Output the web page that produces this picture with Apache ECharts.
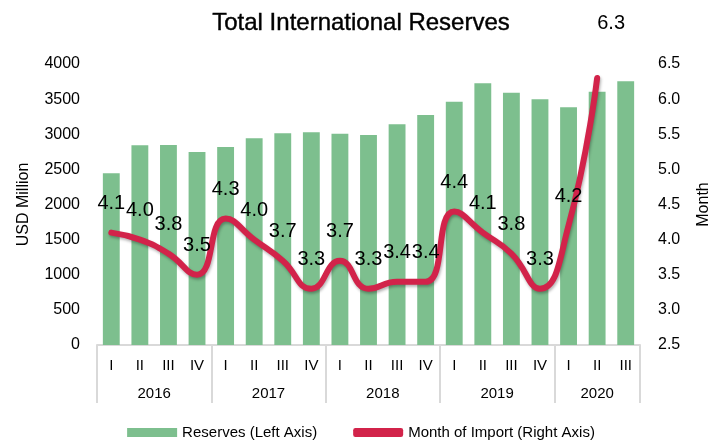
<!DOCTYPE html>
<html>
<head>
<meta charset="utf-8">
<script src="https://cdn.jsdelivr.net/npm/echarts@6/dist/echarts.min.js"></script>
<style>
html,body{margin:0;padding:0;background:#fff;}
#chart{width:722px;height:446px;}
</style>
</head>
<body>
<div id="chart"></div>
<script>
var quarters = ['I','II','III','IV','I','II','III','IV','I','II','III','IV','I','II','III','IV','I','II','III'];
var years = ['2016','2017','2018','2019','2020'];
var yearCenters = [2, 6, 10, 14, 17.5];
var yearBounds = [0, 4, 8, 12, 16, 19];
var reserves = [2445, 2842, 2847, 2747, 2818, 2942, 3013, 3028, 3008, 2989, 3141, 3274, 3464, 3725, 3592, 3497, 3384, 3606, 3754];
var monthsImport = [4.1, 4.0, 3.8, 3.5, 4.3, 4.0, 3.7, 3.3, 3.7, 3.3, 3.4, 3.4, 4.4, 4.1, 3.8, 3.3, 4.2, 6.3];
var leftTicks = {min: 0, max: 4000, interval: 500};
var rightTicks = {min: 2.5, max: 6.5, interval: 0.5};

var FONT = '"Liberation Sans", Arial, sans-serif';
var chart = echarts.init(document.getElementById('chart'));

var lineData = monthsImport.map(function (v, i) {
  if (i === monthsImport.length - 1) {
    return {value: v, label: {offset: [14, -26]}};
  }
  return v;
});

chart.setOption({
  animation: false,
  textStyle: {fontFamily: FONT, color: '#000'},
  title: {
    text: 'Total International Reserves',
    left: 'center',
    top: 6,
    textStyle: {fontFamily: FONT, fontSize: 24, fontWeight: 'normal', color: '#000',
      textBorderColor: '#000', textBorderWidth: 0.4}
  },
  legend: {
    bottom: 1,
    left: 'center',
    itemGap: 36,
    itemWidth: 50,
    itemHeight: 9,
    textStyle: {fontFamily: FONT, fontSize: 15, color: '#000'},
    data: [
      {name: 'Reserves (Left Axis)', icon: 'rect'},
      {name: 'Month of Import (Right Axis)', icon: 'roundRect'}
    ]
  },
  grid: {left: 97, right: 82, top: 64, bottom: 101, containLabel: false},
  xAxis: [
    {
      type: 'category',
      data: quarters,
      position: 'bottom',
      axisLine: {lineStyle: {color: '#d9d9d9', width: 2}},
      axisTick: {show: false},
      axisLabel: {fontFamily: FONT, fontSize: 15, color: '#000', margin: 13, interval: 0},
      splitLine: {show: false}
    },
    {
      type: 'value',
      min: 0,
      max: 19,
      position: 'bottom',
      axisLine: {show: false},
      splitLine: {show: false},
      axisTick: {show: true, customValues: yearBounds, length: 58, inside: false,
        lineStyle: {color: '#d9d9d9', width: 2}},
      axisLabel: {
        customValues: yearCenters,
        fontFamily: FONT, fontSize: 15, color: '#000', margin: 41,
        formatter: function (v) {
          var idx = yearCenters.indexOf(v);
          return idx >= 0 ? years[idx] : '';
        }
      }
    }
  ],
  yAxis: [
    {
      type: 'value',
      min: leftTicks.min, max: leftTicks.max, interval: leftTicks.interval,
      name: 'USD Million',
      nameLocation: 'middle',
      nameRotate: 90,
      nameGap: 65,
      nameTextStyle: {fontFamily: FONT, fontSize: 16, color: '#000'},
      axisLine: {show: false},
      axisTick: {show: false},
      splitLine: {show: false},
      axisLabel: {fontFamily: FONT, fontSize: 16, color: '#000', margin: 17,
        formatter: function (v) { return String(v); }}
    },
    {
      type: 'value',
      min: rightTicks.min, max: rightTicks.max, interval: rightTicks.interval,
      name: 'Month',
      nameLocation: 'middle',
      nameRotate: 90,
      nameGap: 56,
      nameTextStyle: {fontFamily: FONT, fontSize: 16, color: '#000'},
      axisLine: {show: false},
      axisTick: {show: false},
      splitLine: {show: false},
      axisLabel: {fontFamily: FONT, fontSize: 16, color: '#000', margin: 18,
        formatter: function (v) { return v.toFixed(1); }}
    }
  ],
  series: [
    {
      name: 'Reserves (Left Axis)',
      type: 'bar',
      xAxisIndex: 0,
      yAxisIndex: 0,
      data: reserves,
      barWidth: '59%',
      itemStyle: {color: '#7dbf8e'},
      z: 1
    },
    {
      name: 'Month of Import (Right Axis)',
      type: 'line',
      xAxisIndex: 0,
      yAxisIndex: 1,
      data: lineData,
      smooth: 0.5,
      showSymbol: true,
      symbol: 'circle',
      symbolSize: 0,
      lineStyle: {color: '#d2234a', width: 6, cap: 'round',
        shadowColor: 'rgba(0,0,0,0.3)', shadowBlur: 3, shadowOffsetX: 1, shadowOffsetY: 2},
      itemStyle: {color: '#d2234a'},
      label: {show: true, position: 'top', distance: 19, fontFamily: FONT, fontSize: 20, color: '#000',
        formatter: function (p) { return p.value.toFixed(1); }},
      z: 3
    }
  ]
});
</script>
</body>
</html>
